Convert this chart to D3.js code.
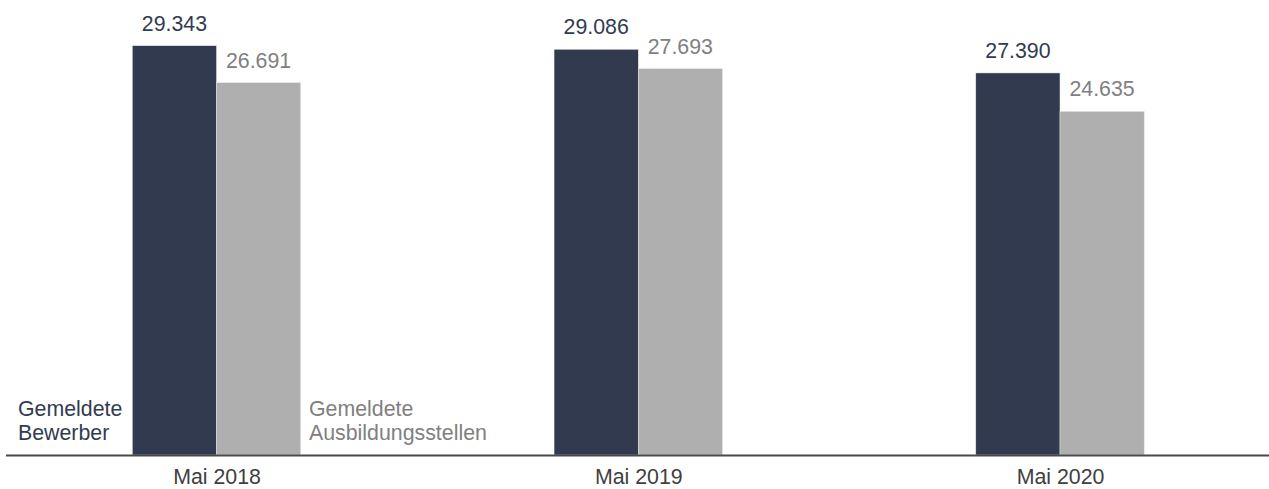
<!DOCTYPE html>
<html>
<head>
<meta charset="utf-8">
<script src="https://cdn.jsdelivr.net/npm/d3@7"></script>
<style>
  html, body { margin: 0; padding: 0; background: #ffffff; }
  svg { display: block; font-family: Arial, "Liberation Sans", sans-serif; }
</style>
</head>
<body>
<svg id="chart" width="1269" height="489"></svg>
<script>
const categories = ["Mai 2018", "Mai 2019", "Mai 2020"];
const seriesNames = ["Gemeldete Bewerber", "Gemeldete Ausbildungsstellen"];
const bewerber = [29343, 29086, 27390];
const stellen = [26691, 27693, 24635];
const valueLabels = [["29.343", "29.086", "27.390"], ["26.691", "27.693", "24.635"]];
const seriesValues = [bewerber, stellen];
const colors = ["#313a4f", "#afafaf"];
const labelColors = ["#323b51", "#808080"];

const svg = d3.select("#chart");
const fontSize = 21.33;

const x = d3.scalePoint().domain(categories).range([216.5, 1060]);
const inner = d3.scaleBand().domain(seriesNames).range([-84.2, 84.2]).padding(0);
const y = d3.scaleLinear().domain([0, 32620]).range([455, 0]);

// bars
seriesNames.forEach((s, si) => {
  const g = svg.append("g");
  g.selectAll("rect").data(seriesValues[si]).join("rect")
    .attr("x", (d, i) => x(categories[i]) + inner(s))
    .attr("y", d => y(d))
    .attr("width", inner.bandwidth())
    .attr("height", d => y(0) - y(d))
    .attr("fill", colors[si])
    .attr("stroke", "#e6e6e6")
    .attr("stroke-width", 0.5);
  g.selectAll("text").data(seriesValues[si]).join("text")
    .attr("x", (d, i) => x(categories[i]) + inner(s) + inner.bandwidth() / 2)
    .attr("y", d => y(d) - 15)
    .attr("text-anchor", "middle")
    .attr("font-size", fontSize)
    .attr("fill", labelColors[si])
    .text((d, i) => valueLabels[si][i]);
});

// axis baseline
const axis = d3.axisBottom(x).tickSize(0).tickPadding(0);
const axG = svg.append("g").attr("transform", `translate(0,${y(0) + 0.5})`).call(axis);
axG.select(".domain").attr("d", "M6,0H1269").attr("stroke", "#4a4a4a").attr("stroke-width", 1.8);
axG.selectAll(".tick text")
  .attr("font-size", fontSize)
  .attr("font-family", "Arial, 'Liberation Sans', sans-serif")
  .attr("fill", "#404040")
  .attr("dy", null)
  .attr("y", 28.5);

// series labels (legend inside chart)
const legend = [
  { x: 18, lines: ["Gemeldete", "Bewerber"], color: labelColors[0] },
  { x: 309, lines: ["Gemeldete", "Ausbildungsstellen"], color: labelColors[1] }
];
legend.forEach(l => {
  const t = svg.append("text")
    .attr("x", l.x).attr("y", 415.5)
    .attr("font-size", fontSize)
    .attr("fill", l.color);
  l.lines.forEach((line, i) => {
    t.append("tspan").attr("x", l.x).attr("dy", i === 0 ? 0 : 24.5).text(line);
  });
});
</script>
</body>
</html>
